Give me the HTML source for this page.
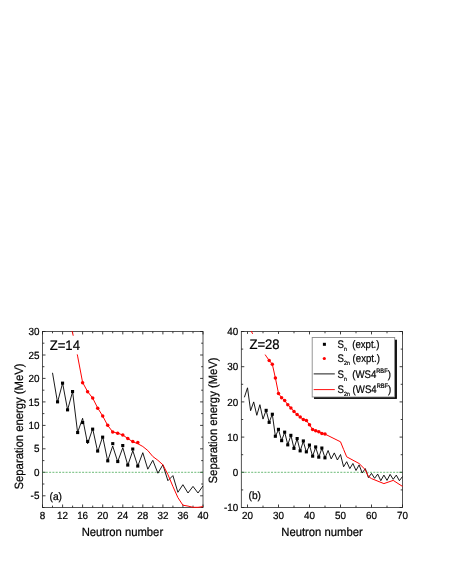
<!DOCTYPE html>
<html><head><meta charset="utf-8"><title>Separation energy</title>
<style>
html,body{margin:0;padding:0;background:#fff;}
body{width:449px;height:581px;overflow:hidden;}
svg{display:block;will-change:transform;}
text{font-family:"Liberation Sans",sans-serif;fill:#000;text-rendering:geometricPrecision;stroke:#000;stroke-width:0.22px;}
.tk{font-size:10.4px;}
.al{font-size:12px;}
.zl{font-size:13.8px;}
.pl{font-size:10.8px;}
.lg{font-size:11px;}
.ss{font-size:6.5px;}
.sb{font-size:6px;}
</style></head><body>
<svg width="449" height="581" viewBox="0 0 449 581">
<defs><clipPath id="ca"><rect x="42.1" y="331.1" width="161.3" height="176.8"/></clipPath><clipPath id="cb"><rect x="240.9" y="331.1" width="162.0" height="176.8"/></clipPath></defs>
<rect width="449" height="581" fill="#fff"/>
<rect x="42.5" y="331.5" width="160.5" height="176.0" fill="none" stroke="#1c1c1c" stroke-width="0.75"/>
<path d="M42.5 507.5v-3M42.5 331.5v2.9M62.6 507.5v-3M62.6 331.5v2.9M82.6 507.5v-3M82.6 331.5v2.9M102.7 507.5v-3M102.7 331.5v2.9M122.8 507.5v-3M122.8 331.5v2.9M142.8 507.5v-3M142.8 331.5v2.9M162.9 507.5v-3M162.9 331.5v2.9M182.9 507.5v-3M182.9 331.5v2.9M203.0 507.5v-3M203.0 331.5v2.9M52.5 507.5v-1.9M52.5 331.5v1.8M72.6 507.5v-1.9M72.6 331.5v1.8M92.7 507.5v-1.9M92.7 331.5v1.8M112.7 507.5v-1.9M112.7 331.5v1.8M132.8 507.5v-1.9M132.8 331.5v1.8M152.8 507.5v-1.9M152.8 331.5v1.8M172.9 507.5v-1.9M172.9 331.5v1.8M193.0 507.5v-1.9M193.0 331.5v1.8M42.5 495.8h3M203.0 495.8h-2.9M42.5 472.3h3M203.0 472.3h-2.9M42.5 448.8h3M203.0 448.8h-2.9M42.5 425.4h3M203.0 425.4h-2.9M42.5 401.9h3M203.0 401.9h-2.9M42.5 378.4h3M203.0 378.4h-2.9M42.5 355.0h3M203.0 355.0h-2.9M42.5 331.5h3M203.0 331.5h-2.9M42.5 507.5h1.9M203.0 507.5h-1.8M42.5 484.0h1.9M203.0 484.0h-1.8M42.5 460.6h1.9M203.0 460.6h-1.8M42.5 437.1h1.9M203.0 437.1h-1.8M42.5 413.6h1.9M203.0 413.6h-1.8M42.5 390.2h1.9M203.0 390.2h-1.8M42.5 366.7h1.9M203.0 366.7h-1.8M42.5 343.2h1.9M203.0 343.2h-1.8" stroke="#1c1c1c" stroke-width="0.85" fill="none"/>
<text transform="translate(42.50,518.75) scale(0.950,1)" text-anchor="middle" class="tk">8</text>
<text transform="translate(62.56,518.75) scale(0.950,1)" text-anchor="middle" class="tk">12</text>
<text transform="translate(82.62,518.75) scale(0.950,1)" text-anchor="middle" class="tk">16</text>
<text transform="translate(102.69,518.75) scale(0.950,1)" text-anchor="middle" class="tk">20</text>
<text transform="translate(122.75,518.75) scale(0.950,1)" text-anchor="middle" class="tk">24</text>
<text transform="translate(142.81,518.75) scale(0.950,1)" text-anchor="middle" class="tk">28</text>
<text transform="translate(162.88,518.75) scale(0.950,1)" text-anchor="middle" class="tk">32</text>
<text transform="translate(182.94,518.75) scale(0.950,1)" text-anchor="middle" class="tk">36</text>
<text transform="translate(203.00,518.75) scale(0.950,1)" text-anchor="middle" class="tk">40</text>
<text transform="translate(39.40,499.42) scale(0.950,1)" text-anchor="end" class="tk">-5</text>
<text transform="translate(39.40,475.95) scale(0.950,1)" text-anchor="end" class="tk">0</text>
<text transform="translate(39.40,452.48) scale(0.950,1)" text-anchor="end" class="tk">5</text>
<text transform="translate(39.40,429.02) scale(0.950,1)" text-anchor="end" class="tk">10</text>
<text transform="translate(39.40,405.55) scale(0.950,1)" text-anchor="end" class="tk">15</text>
<text transform="translate(39.40,382.08) scale(0.950,1)" text-anchor="end" class="tk">20</text>
<text transform="translate(39.40,358.62) scale(0.950,1)" text-anchor="end" class="tk">25</text>
<text transform="translate(39.40,335.15) scale(0.950,1)" text-anchor="end" class="tk">30</text>
<g clip-path="url(#ca)">
<line x1="42.5" x2="203.0" y1="472.3" y2="472.3" stroke="#2e9e3e" stroke-width="0.7" stroke-dasharray="2 1.3"/>
<polyline points="52.5,372.8 57.5,402.4 62.6,383.1 67.6,409.9 72.6,391.6 77.6,432.5 82.6,418.3 87.6,443.7 92.7,428.7 97.7,451.9 102.7,436.6 107.7,461.0 112.7,446.0 117.7,461.7 122.8,447.7 127.8,465.3 132.8,450.7 137.8,466.0 142.8,452.7 147.8,469.2 152.8,460.3 157.9,473.2 162.9,464.8 167.9,480.7 172.9,475.6 177.9,492.3 182.9,484.7 188.0,493.0 193.0,486.4 198.0,493.0 203.0,485.9" fill="none" stroke="#000" stroke-width="0.9" stroke-linejoin="round"/>
<polyline points="67.6,318.8 72.6,332.9 77.6,356.1 82.6,382.4 87.6,391.6 92.7,398.1 97.7,408.0 102.7,416.0 107.7,425.4 112.7,431.9 117.7,433.2 122.8,435.0 127.8,438.5 132.8,441.8 137.8,443.7 142.8,446.5 147.8,450.5 152.8,456.5 157.9,460.3 162.9,464.8 167.9,474.5 172.9,486.4 177.9,497.6 182.9,505.2 188.0,506.1 193.0,507.3 198.0,507.3 203.0,506.6" fill="none" stroke="#f00" stroke-width="1" stroke-linejoin="round"/>
<rect x="56.0" y="400.3" width="3.1" height="3.1" fill="#000"/><rect x="61.0" y="381.6" width="3.1" height="3.1" fill="#000"/><rect x="66.0" y="408.3" width="3.1" height="3.1" fill="#000"/><rect x="71.0" y="390.0" width="3.1" height="3.1" fill="#000"/><rect x="76.1" y="431.0" width="3.1" height="3.1" fill="#000"/><rect x="81.1" y="421.0" width="3.1" height="3.1" fill="#000"/><rect x="86.1" y="439.9" width="3.1" height="3.1" fill="#000"/><rect x="91.1" y="427.6" width="3.1" height="3.1" fill="#000"/><rect x="96.1" y="449.5" width="3.1" height="3.1" fill="#000"/><rect x="101.1" y="435.6" width="3.1" height="3.1" fill="#000"/><rect x="106.2" y="459.3" width="3.1" height="3.1" fill="#000"/><rect x="111.2" y="442.1" width="3.1" height="3.1" fill="#000"/><rect x="116.2" y="460.0" width="3.1" height="3.1" fill="#000"/><rect x="121.2" y="444.0" width="3.1" height="3.1" fill="#000"/><rect x="126.2" y="463.5" width="3.1" height="3.1" fill="#000"/><rect x="131.2" y="447.5" width="3.1" height="3.1" fill="#000"/><rect x="136.2" y="464.5" width="3.1" height="3.1" fill="#000"/>
<circle cx="82.6" cy="382.7" r="1.75" fill="#f00"/><circle cx="87.6" cy="391.7" r="1.75" fill="#f00"/><circle cx="92.7" cy="398.1" r="1.75" fill="#f00"/><circle cx="97.7" cy="408.2" r="1.75" fill="#f00"/><circle cx="102.7" cy="415.9" r="1.75" fill="#f00"/><circle cx="107.7" cy="425.2" r="1.75" fill="#f00"/><circle cx="112.7" cy="431.9" r="1.75" fill="#f00"/><circle cx="117.7" cy="433.2" r="1.75" fill="#f00"/><circle cx="122.8" cy="435.0" r="1.75" fill="#f00"/><circle cx="127.8" cy="438.5" r="1.75" fill="#f00"/><circle cx="132.8" cy="441.5" r="1.75" fill="#f00"/><circle cx="137.8" cy="442.5" r="1.75" fill="#f00"/>
<rect x="47" y="335.7" width="38" height="18.7" fill="#fff"/>
</g>
<text transform="translate(49.70,349.50) scale(0.950,1)" text-anchor="start" class="zl">Z=14</text>
<text transform="translate(49.50,500.00) scale(0.950,1)" text-anchor="start" class="pl">(a)</text>
<text transform="translate(23.00,426.45) rotate(-90) scale(0.940,1)" text-anchor="middle" class="al">Separation energy (MeV)</text>
<text transform="translate(122.40,535.80) scale(0.940,1)" text-anchor="middle" class="al">Neutron number</text>
<rect x="241.3" y="331.5" width="161.2" height="176.0" fill="none" stroke="#1c1c1c" stroke-width="0.75"/>
<path d="M247.5 507.5v-3M247.5 331.5v2.9M278.5 507.5v-3M278.5 331.5v2.9M309.5 507.5v-3M309.5 331.5v2.9M340.5 507.5v-3M340.5 331.5v2.9M371.5 507.5v-3M371.5 331.5v2.9M402.5 507.5v-3M402.5 331.5v2.9M263.0 507.5v-1.9M263.0 331.5v1.8M294.0 507.5v-1.9M294.0 331.5v1.8M325.0 507.5v-1.9M325.0 331.5v1.8M356.0 507.5v-1.9M356.0 331.5v1.8M387.0 507.5v-1.9M387.0 331.5v1.8M241.3 507.5h3M402.5 507.5h-2.9M241.3 472.3h3M402.5 472.3h-2.9M241.3 437.1h3M402.5 437.1h-2.9M241.3 401.9h3M402.5 401.9h-2.9M241.3 366.7h3M402.5 366.7h-2.9M241.3 331.5h3M402.5 331.5h-2.9M241.3 489.9h1.9M402.5 489.9h-1.8M241.3 454.7h1.9M402.5 454.7h-1.8M241.3 419.5h1.9M402.5 419.5h-1.8M241.3 384.3h1.9M402.5 384.3h-1.8M241.3 349.1h1.9M402.5 349.1h-1.8" stroke="#1c1c1c" stroke-width="0.85" fill="none"/>
<text transform="translate(247.50,518.75) scale(0.950,1)" text-anchor="middle" class="tk">20</text>
<text transform="translate(278.50,518.75) scale(0.950,1)" text-anchor="middle" class="tk">30</text>
<text transform="translate(309.50,518.75) scale(0.950,1)" text-anchor="middle" class="tk">40</text>
<text transform="translate(340.50,518.75) scale(0.950,1)" text-anchor="middle" class="tk">50</text>
<text transform="translate(371.50,518.75) scale(0.950,1)" text-anchor="middle" class="tk">60</text>
<text transform="translate(402.50,518.75) scale(0.950,1)" text-anchor="middle" class="tk">70</text>
<text transform="translate(238.20,511.15) scale(0.950,1)" text-anchor="end" class="tk">-10</text>
<text transform="translate(238.20,475.95) scale(0.950,1)" text-anchor="end" class="tk">0</text>
<text transform="translate(238.20,440.75) scale(0.950,1)" text-anchor="end" class="tk">10</text>
<text transform="translate(238.20,405.55) scale(0.950,1)" text-anchor="end" class="tk">20</text>
<text transform="translate(238.20,370.35) scale(0.950,1)" text-anchor="end" class="tk">30</text>
<text transform="translate(238.20,335.15) scale(0.950,1)" text-anchor="end" class="tk">40</text>
<g clip-path="url(#cb)">
<line x1="241.3" x2="402.5" y1="472.3" y2="472.3" stroke="#2e9e3e" stroke-width="0.7" stroke-dasharray="2 1.3"/>
<polyline points="244.4,397.3 247.5,387.8 250.6,410.7 253.7,401.9 256.8,415.3 259.9,404.7 263.0,419.1 266.1,410.3 269.2,422.3 272.3,414.2 275.4,436.4 278.5,429.7 281.6,440.6 284.7,432.2 287.8,444.8 290.9,435.3 294.0,448.4 297.1,438.7 300.2,451.0 303.3,441.3 306.4,452.2 309.5,445.3 312.6,456.3 315.7,447.4 318.8,457.2 321.9,448.2 325.0,457.9 328.1,450.5 331.2,458.9 334.3,452.9 337.4,460.0 340.5,454.5 343.6,466.8 346.7,461.7 349.8,468.6 352.9,463.5 356.0,470.5 359.1,464.9 362.2,473.0 365.3,468.6 368.4,477.6 371.5,473.4 374.6,478.3 377.7,474.1 380.8,480.7 383.9,475.1 387.0,480.4 390.1,474.4 393.2,479.3 396.3,475.1 399.4,480.7 402.5,476.5" fill="none" stroke="#000" stroke-width="0.9" stroke-linejoin="round"/>
<polyline points="250.6,329.7 253.7,336.1 256.8,341.0 259.9,345.9 263.0,351.2 266.1,356.1 269.2,360.4 272.3,364.2 275.4,378.0 278.5,393.5 281.6,397.7 284.7,400.5 287.8,404.7 290.9,407.9 294.0,411.4 297.1,414.6 300.2,417.0 303.3,419.5 306.4,420.6 309.5,424.8 312.6,429.4 315.7,430.8 318.8,431.8 321.9,433.4 325.0,434.1 340.5,441.8 343.6,449.4 346.7,456.8 359.1,463.5 365.3,469.7 368.4,476.5 371.5,478.6 383.9,483.6 393.2,480.4 402.5,486.4" fill="none" stroke="#f00" stroke-width="1" stroke-linejoin="round"/>
<rect x="264.6" y="408.8" width="3.1" height="3.1" fill="#000"/><rect x="267.6" y="420.8" width="3.1" height="3.1" fill="#000"/><rect x="270.8" y="412.7" width="3.1" height="3.1" fill="#000"/><rect x="273.8" y="434.7" width="3.1" height="3.1" fill="#000"/><rect x="276.9" y="427.8" width="3.1" height="3.1" fill="#000"/><rect x="280.1" y="439.1" width="3.1" height="3.1" fill="#000"/><rect x="283.1" y="430.6" width="3.1" height="3.1" fill="#000"/><rect x="286.2" y="443.3" width="3.1" height="3.1" fill="#000"/><rect x="289.3" y="433.8" width="3.1" height="3.1" fill="#000"/><rect x="292.4" y="446.8" width="3.1" height="3.1" fill="#000"/><rect x="295.6" y="437.0" width="3.1" height="3.1" fill="#000"/><rect x="298.6" y="449.3" width="3.1" height="3.1" fill="#000"/><rect x="301.8" y="439.4" width="3.1" height="3.1" fill="#000"/><rect x="304.8" y="450.3" width="3.1" height="3.1" fill="#000"/><rect x="307.9" y="443.5" width="3.1" height="3.1" fill="#000"/><rect x="311.1" y="454.6" width="3.1" height="3.1" fill="#000"/><rect x="314.1" y="445.4" width="3.1" height="3.1" fill="#000"/><rect x="317.2" y="455.6" width="3.1" height="3.1" fill="#000"/><rect x="320.3" y="446.5" width="3.1" height="3.1" fill="#000"/><rect x="323.4" y="456.3" width="3.1" height="3.1" fill="#000"/>
<circle cx="269.2" cy="360.4" r="1.75" fill="#f00"/><circle cx="272.3" cy="364.2" r="1.75" fill="#f00"/><circle cx="275.4" cy="378.0" r="1.75" fill="#f00"/><circle cx="278.5" cy="393.5" r="1.75" fill="#f00"/><circle cx="281.6" cy="397.7" r="1.75" fill="#f00"/><circle cx="284.7" cy="400.5" r="1.75" fill="#f00"/><circle cx="287.8" cy="404.7" r="1.75" fill="#f00"/><circle cx="290.9" cy="407.9" r="1.75" fill="#f00"/><circle cx="294.0" cy="411.4" r="1.75" fill="#f00"/><circle cx="297.1" cy="414.6" r="1.75" fill="#f00"/><circle cx="300.2" cy="417.0" r="1.75" fill="#f00"/><circle cx="303.3" cy="419.5" r="1.75" fill="#f00"/><circle cx="306.4" cy="420.6" r="1.75" fill="#f00"/><circle cx="309.5" cy="424.8" r="1.75" fill="#f00"/><circle cx="312.6" cy="429.4" r="1.75" fill="#f00"/><circle cx="315.7" cy="430.8" r="1.75" fill="#f00"/><circle cx="318.8" cy="431.8" r="1.75" fill="#f00"/><circle cx="321.9" cy="433.4" r="1.75" fill="#f00"/><circle cx="325.0" cy="434.1" r="1.75" fill="#f00"/>
<rect x="246" y="333.9" width="38" height="20.7" fill="#fff"/>
</g>
<text transform="translate(249.40,349.30) scale(0.950,1)" text-anchor="start" class="zl">Z=28</text>
<text transform="translate(248.50,498.80) scale(0.950,1)" text-anchor="start" class="pl">(b)</text>
<text transform="translate(217.00,420.40) rotate(-90) scale(0.940,1)" text-anchor="middle" class="al">Separation energy (MeV)</text>
<text transform="translate(322.00,535.80) scale(0.940,1)" text-anchor="middle" class="al">Neutron number</text>
<rect x="314" y="339.7" width="82.9" height="59.2" fill="#000"/>
<rect x="312.2" y="337.5" width="82.5" height="59.5" fill="#fff" stroke="#8a8a8a" stroke-width="0.9"/>
<rect x="322.9" y="342.8" width="3" height="3" fill="#000"/>
<circle cx="324.3" cy="358.5" r="1.6" fill="#f00"/>
<line x1="313.7" x2="334.8" y1="373.9" y2="373.9" stroke="#000" stroke-width="0.9"/>
<line x1="313.7" x2="334.8" y1="389.6" y2="389.6" stroke="#f00" stroke-width="0.95"/>
<text transform="translate(337.40,348.20) scale(0.875,1)" text-anchor="start" class="lg">S<tspan class="sb" dx="0.3" dy="2.9">n</tspan></text>
<text transform="translate(352.20,348.20) scale(0.875,1)" text-anchor="start" class="lg">(expt.)</text>
<text transform="translate(337.40,361.80) scale(0.875,1)" text-anchor="start" class="lg">S<tspan class="sb" dx="0.3" dy="2.9">2n</tspan></text>
<text transform="translate(352.60,361.80) scale(0.875,1)" text-anchor="start" class="lg">(expt.)</text>
<text transform="translate(337.40,377.60) scale(0.875,1)" text-anchor="start" class="lg">S<tspan class="sb" dx="0.3" dy="2.9">n</tspan></text>
<text transform="translate(352.20,377.60) scale(0.875,1)" text-anchor="start" class="lg">(WS4<tspan class="ss" dy="-4.5">RBF</tspan><tspan dy="4.5">)</tspan></text>
<text transform="translate(337.40,392.90) scale(0.875,1)" text-anchor="start" class="lg">S<tspan class="sb" dx="0.3" dy="2.9">2n</tspan></text>
<text transform="translate(352.60,392.90) scale(0.875,1)" text-anchor="start" class="lg">(WS4<tspan class="ss" dy="-4.5">RBF</tspan><tspan dy="4.5">)</tspan></text>
</svg>
</body></html>
